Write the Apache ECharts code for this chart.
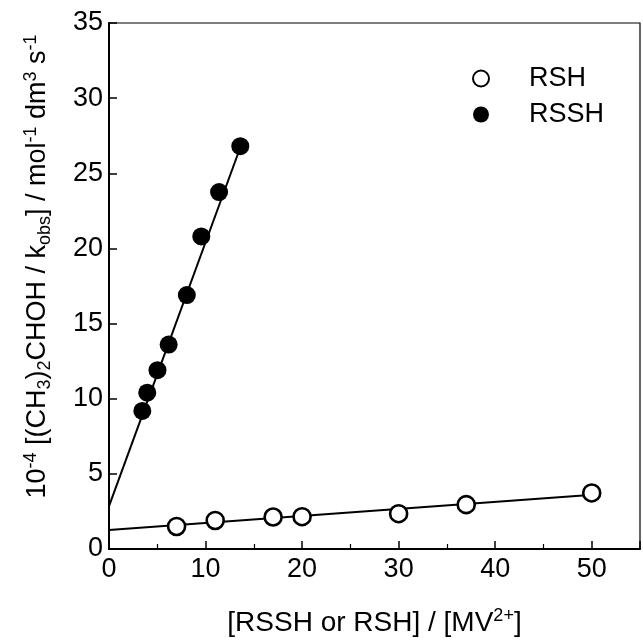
<!DOCTYPE html>
<html>
<head>
<meta charset="utf-8">
<script src="https://cdn.jsdelivr.net/npm/echarts@6/dist/echarts.min.js"></script>
<style>
html,body{margin:0;padding:0;background:#fff;}
#chart{width:643px;height:644px;}
</style>
</head>
<body>
<div id="chart"></div>
<script>
// ---- data ----
const seriesNames = ['RSH', 'RSSH'];
const rshX = [7, 11, 17, 20, 30, 37, 50];
const rshY = [1.5, 1.9, 2.13, 2.15, 2.35, 2.95, 3.73];
const rsshX = [3.45, 3.96, 5.02, 6.18, 8.06, 9.56, 11.4, 13.6];
const rsshY = [9.19, 10.4, 11.9, 13.6, 16.9, 20.8, 23.75, 26.8];
const rshFitX = [0, 50.5];
const rshFitY = [1.27, 3.62];
const rsshFitX = [0, 13.7];
const rsshFitY = [2.85, 26.9];
const xTicks = [0, 10, 20, 30, 40, 50];
const yTicks = [0, 5, 10, 15, 20, 25, 30, 35];
const xMax = 55;

const pair = (xs, ys) => xs.map((x, i) => [x, ys[i]]);
const FONT = 'Liberation Sans';

const chart = echarts.init(document.getElementById('chart'), null, {renderer: 'canvas'});
chart.setOption({
  animation: false,
  backgroundColor: '#fff',
  textStyle: {fontFamily: FONT, color: '#000'},
  grid: {left: 109, top: 23, bottom: 89, right: -3, show: true, borderColor: '#000', borderWidth: 1.2, containLabel: false},
  legend: {
    data: seriesNames,
    orient: 'vertical',
    left: 467, top: 60,
    itemWidth: 16, itemHeight: 16, itemGap: 9,
    textStyle: {fontFamily: FONT, fontSize: 27, lineHeight: 27, color: '#000', padding: [0, 0, 0, 35]}
  },
  xAxis: {
    type: 'value', min: xTicks[0], max: xMax, interval: xTicks[1] - xTicks[0],
    axisLine: {show: true, lineStyle: {color: '#000', width: 2}},
    axisTick: {show: true, inside: true, length: 8, lineStyle: {color: '#000', width: 1.5}},
    minorTick: {show: true, splitNumber: 2, length: 5, lineStyle: {color: '#000', width: 1.2}},
    splitLine: {show: false},
    axisLabel: {fontFamily: FONT, fontSize: 27, color: '#000', margin: 7,
      formatter: v => (xTicks.indexOf(v) >= 0 ? String(v) : '')},
    name: '[RSSH or RSH] / [MV{sup|2+}]',
    nameLocation: 'middle', nameGap: 58,
    nameTextStyle: {fontFamily: FONT, fontSize: 28, color: '#000', lineHeight: 32,
      rich: {sup: {fontFamily: FONT, fontSize: 18, lineHeight: 18, verticalAlign: 'top', color: '#000'}}}
  },
  yAxis: {
    type: 'value', min: yTicks[0], max: yTicks[yTicks.length - 1], interval: yTicks[1] - yTicks[0],
    axisLine: {show: true, lineStyle: {color: '#000', width: 2}},
    axisTick: {show: true, inside: true, length: 8, lineStyle: {color: '#000', width: 1.5}},
    splitLine: {show: false},
    axisLabel: {fontFamily: FONT, fontSize: 27, color: '#000', margin: 6},
    name: '10{sup|-4} [(CH{sub|3}){sub|2}CHOH / k{sub|obs}] / mol{sup|-1} dm{sup|3} s{sup|-1}',
    nameLocation: 'middle', nameGap: 55, nameRotate: 90,
    nameTextStyle: {fontFamily: FONT, fontSize: 27, color: '#000', lineHeight: 32, padding: [0, 0, 0, 39],
      rich: {
        sup: {fontFamily: FONT, fontSize: 18, lineHeight: 18, verticalAlign: 'top', color: '#000'},
        sub: {fontFamily: FONT, fontSize: 18, lineHeight: 18, verticalAlign: 'bottom', color: '#000'}
      }}
  },
  series: [
    {name: 'RSH-fit', type: 'line', data: pair(rshFitX, rshFitY), showSymbol: false, silent: true,
      lineStyle: {color: '#000', width: 2}, z: 2},
    {name: 'RSSH-fit', type: 'line', data: pair(rsshFitX, rsshFitY), showSymbol: false, silent: true,
      lineStyle: {color: '#000', width: 2}, z: 2},
    {name: seriesNames[0], type: 'scatter', data: pair(rshX, rshY), symbol: 'circle', symbolSize: 17,
      itemStyle: {color: '#fff', borderColor: '#000', borderWidth: 2.6, opacity: 1}, z: 3},
    {name: seriesNames[1], type: 'scatter', data: pair(rsshX, rsshY), symbol: 'circle', symbolSize: 18,
      itemStyle: {color: '#000', borderColor: '#000', borderWidth: 0, opacity: 1}, z: 3}
  ]
});
</script>
</body>
</html>
